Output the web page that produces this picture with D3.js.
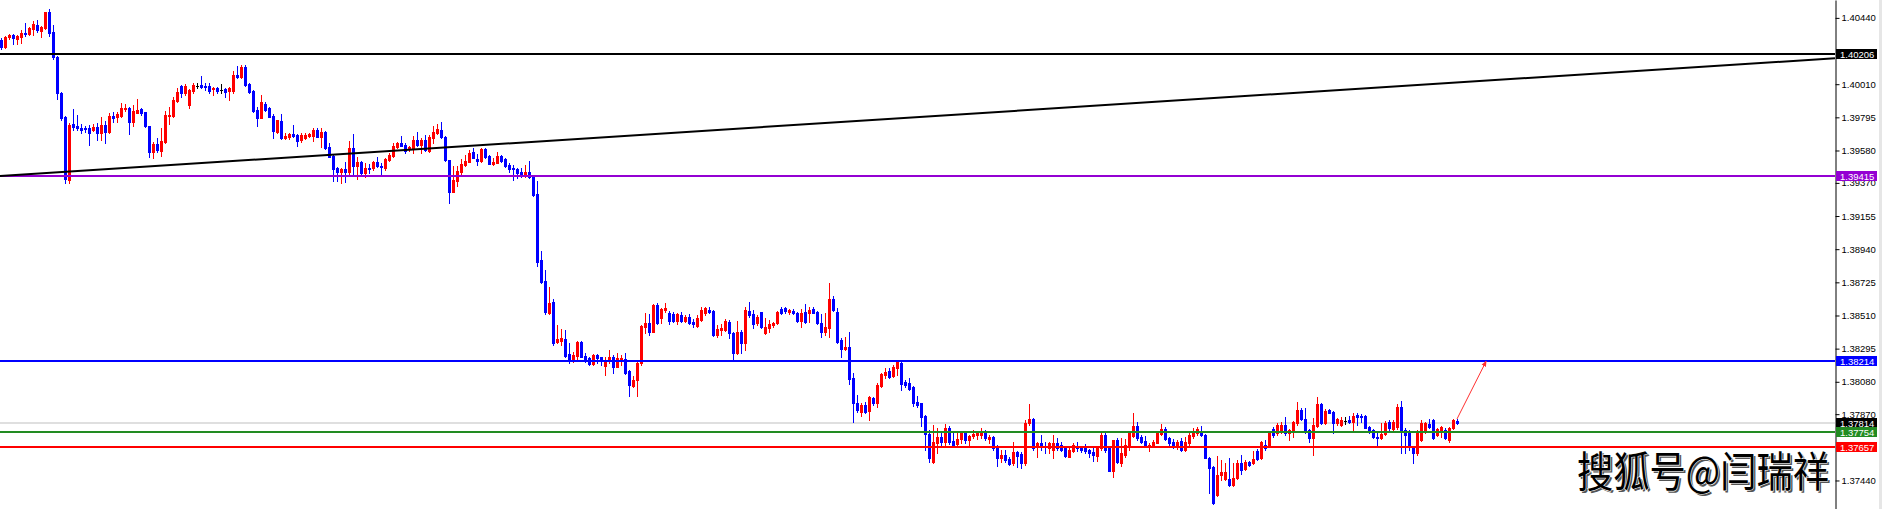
<!DOCTYPE html>
<html>
<head>
<meta charset="utf-8">
<script src="https://cdn.jsdelivr.net/npm/d3@7"></script>
<style>
  html, body { margin: 0; padding: 0; background: #fff; }
  svg { display: block; }
</style>
</head>
<body>
<div id="chart"></div>
<script>
// -- candle data, one entry per bar -----------------------------
const openP = [
  1.40297, 1.40252, 1.40316, 1.40329, 1.40303, 1.40316, 1.40342, 1.40335, 1.40368, 1.40394,
  1.40355, 1.40374, 1.40478, 1.40348, 1.40187, 1.39953, 1.39798, 1.39389, 1.39752, 1.39739,
  1.39726, 1.39726, 1.39726, 1.39713, 1.39733, 1.39694, 1.39746, 1.39700, 1.39804, 1.39798,
  1.39804, 1.39849, 1.39855, 1.39765, 1.39824, 1.39849, 1.39830, 1.39739, 1.39570, 1.39622,
  1.39577, 1.39635, 1.39804, 1.39804, 1.39901, 1.39998, 1.39953, 1.39875, 1.39966, 1.39998,
  1.40005, 1.39998, 1.39998, 1.39979, 1.39985, 1.39972, 1.39979, 1.39966, 1.39966, 1.40070,
  1.40057, 1.40122, 1.40011, 1.39966, 1.39843, 1.39791, 1.39881, 1.39855, 1.39804, 1.39700,
  1.39772, 1.39661, 1.39668, 1.39687, 1.39681, 1.39648, 1.39661, 1.39674, 1.39674, 1.39713,
  1.39668, 1.39700, 1.39603, 1.39544, 1.39466, 1.39440, 1.39460, 1.39440, 1.39596, 1.39479,
  1.39505, 1.39434, 1.39466, 1.39466, 1.39505, 1.39479, 1.39466, 1.39518, 1.39544, 1.39603,
  1.39629, 1.39616, 1.39590, 1.39590, 1.39648, 1.39616, 1.39648, 1.39577, 1.39661, 1.39694,
  1.39713, 1.39668, 1.39518, 1.39311, 1.39383, 1.39440, 1.39486, 1.39505, 1.39570, 1.39525,
  1.39512, 1.39590, 1.39544, 1.39492, 1.39499, 1.39544, 1.39525, 1.39486, 1.39466, 1.39460,
  1.39440, 1.39414, 1.39440, 1.39408, 1.39298, 1.38870, 1.38734, 1.38526, 1.38597, 1.38338,
  1.38345, 1.38358, 1.38260, 1.38221, 1.38247, 1.38338, 1.38247, 1.38234, 1.38195, 1.38254,
  1.38241, 1.38182, 1.38215, 1.38241, 1.38176, 1.38221, 1.38228, 1.38150, 1.38052, 1.38091,
  1.38202, 1.38436, 1.38462, 1.38403, 1.38578, 1.38494, 1.38545, 1.38526, 1.38519, 1.38474,
  1.38513, 1.38474, 1.38500, 1.38468, 1.38442, 1.38481, 1.38526, 1.38545, 1.38539, 1.38384,
  1.38416, 1.38416, 1.38468, 1.38397, 1.38267, 1.38403, 1.38332, 1.38539, 1.38519, 1.38462,
  1.38532, 1.38397, 1.38429, 1.38449, 1.38462, 1.38552, 1.38558, 1.38532, 1.38539, 1.38526,
  1.38474, 1.38532, 1.38526, 1.38552, 1.38532, 1.38462, 1.38403, 1.38429, 1.38617, 1.38532,
  1.38351, 1.38293, 1.38306, 1.38104, 1.37943, 1.37884, 1.37930, 1.37891, 1.37975, 1.37943,
  1.38052, 1.38124, 1.38150, 1.38117, 1.38169, 1.38202, 1.38078, 1.38072, 1.38046, 1.37949,
  1.37943, 1.37858, 1.37741, 1.37560, 1.37683, 1.37722, 1.37689, 1.37780, 1.37696, 1.37676,
  1.37709, 1.37748, 1.37702, 1.37728, 1.37735, 1.37735, 1.37748, 1.37709, 1.37722, 1.37663,
  1.37585, 1.37605, 1.37579, 1.37554, 1.37624, 1.37611, 1.37554, 1.37813, 1.37839, 1.37657,
  1.37683, 1.37663, 1.37650, 1.37637, 1.37683, 1.37670, 1.37650, 1.37592, 1.37631, 1.37663,
  1.37650, 1.37650, 1.37637, 1.37624, 1.37598, 1.37650, 1.37735, 1.37650, 1.37502, 1.37702,
  1.37554, 1.37605, 1.37657, 1.37728, 1.37793, 1.37722, 1.37696, 1.37657, 1.37663, 1.37683,
  1.37741, 1.37774, 1.37715, 1.37689, 1.37670, 1.37696, 1.37637, 1.37683, 1.37728, 1.37748,
  1.37754, 1.37735, 1.37585, 1.37528, 1.37346, 1.37476, 1.37450, 1.37450, 1.37411, 1.37456,
  1.37554, 1.37515, 1.37560, 1.37554, 1.37631, 1.37585, 1.37670, 1.37657, 1.37774, 1.37748,
  1.37754, 1.37800, 1.37748, 1.37754, 1.37813, 1.37897, 1.37839, 1.37767, 1.37715, 1.37793,
  1.37936, 1.37813, 1.37897, 1.37884, 1.37813, 1.37800, 1.37826, 1.37832, 1.37819, 1.37865,
  1.37858, 1.37858, 1.37787, 1.37767, 1.37722, 1.37715, 1.37741, 1.37819, 1.37774, 1.37787,
  1.37917, 1.37767, 1.37754, 1.37657, 1.37618, 1.37702, 1.37754, 1.37806, 1.37832, 1.37735,
  1.37754, 1.37767, 1.37702, 1.37780, 1.37826
];
const highP = [
  1.40309, 1.40322, 1.40335, 1.40335, 1.40329, 1.40361, 1.40407, 1.40381, 1.40420, 1.40426,
  1.40387, 1.40478, 1.40498, 1.40394, 1.40193, 1.39959, 1.39804, 1.39759, 1.39849, 1.39811,
  1.39752, 1.39739, 1.39746, 1.39752, 1.39759, 1.39798, 1.39772, 1.39824, 1.39830, 1.39830,
  1.39888, 1.39881, 1.39862, 1.39875, 1.39914, 1.39855, 1.39830, 1.39739, 1.39635, 1.39661,
  1.39726, 1.39837, 1.39862, 1.39927, 1.39985, 1.40005, 1.40011, 1.39979, 1.40018, 1.40018,
  1.40063, 1.40018, 1.40018, 1.39992, 1.39992, 1.40011, 1.39985, 1.39992, 1.40096, 1.40128,
  1.40135, 1.40135, 1.40018, 1.39972, 1.39862, 1.39940, 1.39894, 1.39862, 1.39817, 1.39778,
  1.39817, 1.39694, 1.39694, 1.39746, 1.39687, 1.39694, 1.39694, 1.39694, 1.39726, 1.39726,
  1.39726, 1.39707, 1.39629, 1.39551, 1.39473, 1.39466, 1.39505, 1.39642, 1.39687, 1.39538,
  1.39512, 1.39499, 1.39492, 1.39512, 1.39538, 1.39499, 1.39531, 1.39564, 1.39629, 1.39635,
  1.39674, 1.39629, 1.39609, 1.39674, 1.39700, 1.39661, 1.39681, 1.39681, 1.39739, 1.39752,
  1.39765, 1.39674, 1.39518, 1.39479, 1.39479, 1.39525, 1.39551, 1.39583, 1.39596, 1.39557,
  1.39596, 1.39596, 1.39551, 1.39531, 1.39570, 1.39551, 1.39531, 1.39499, 1.39486, 1.39466,
  1.39466, 1.39486, 1.39512, 1.39421, 1.39383, 1.38929, 1.38805, 1.38695, 1.38617, 1.38449,
  1.38423, 1.38416, 1.38332, 1.38273, 1.38345, 1.38345, 1.38267, 1.38241, 1.38260, 1.38260,
  1.38241, 1.38241, 1.38286, 1.38254, 1.38267, 1.38254, 1.38267, 1.38156, 1.38117, 1.38208,
  1.38449, 1.38526, 1.38519, 1.38584, 1.38591, 1.38558, 1.38591, 1.38539, 1.38532, 1.38526,
  1.38532, 1.38513, 1.38519, 1.38487, 1.38513, 1.38565, 1.38565, 1.38565, 1.38545, 1.38449,
  1.38455, 1.38487, 1.38481, 1.38403, 1.38474, 1.38416, 1.38565, 1.38597, 1.38545, 1.38513,
  1.38532, 1.38493, 1.38481, 1.38468, 1.38539, 1.38565, 1.38565, 1.38552, 1.38552, 1.38532,
  1.38552, 1.38584, 1.38565, 1.38565, 1.38539, 1.38519, 1.38526, 1.38721, 1.38636, 1.38558,
  1.38364, 1.38371, 1.38403, 1.38137, 1.37995, 1.37943, 1.37949, 1.37988, 1.37982, 1.38072,
  1.38137, 1.38169, 1.38169, 1.38189, 1.38221, 1.38221, 1.38091, 1.38104, 1.38052, 1.37988,
  1.37943, 1.37865, 1.37767, 1.37800, 1.37780, 1.37748, 1.37806, 1.37793, 1.37748, 1.37761,
  1.37761, 1.37754, 1.37735, 1.37767, 1.37761, 1.37780, 1.37767, 1.37735, 1.37728, 1.37670,
  1.37637, 1.37637, 1.37592, 1.37689, 1.37631, 1.37624, 1.37832, 1.37936, 1.37845, 1.37689,
  1.37735, 1.37689, 1.37689, 1.37735, 1.37715, 1.37689, 1.37657, 1.37650, 1.37683, 1.37689,
  1.37663, 1.37676, 1.37644, 1.37657, 1.37663, 1.37754, 1.37748, 1.37657, 1.37702, 1.37715,
  1.37715, 1.37709, 1.37754, 1.37878, 1.37819, 1.37735, 1.37728, 1.37683, 1.37702, 1.37754,
  1.37806, 1.37787, 1.37722, 1.37709, 1.37702, 1.37715, 1.37722, 1.37748, 1.37780, 1.37787,
  1.37793, 1.37741, 1.37592, 1.37534, 1.37598, 1.37573, 1.37554, 1.37585, 1.37554, 1.37573,
  1.37605, 1.37573, 1.37567, 1.37631, 1.37644, 1.37696, 1.37702, 1.37754, 1.37787, 1.37813,
  1.37819, 1.37852, 1.37774, 1.37826, 1.37949, 1.37910, 1.37910, 1.37774, 1.37845, 1.37982,
  1.37943, 1.37904, 1.37904, 1.37891, 1.37845, 1.37852, 1.37852, 1.37858, 1.37878, 1.37878,
  1.37871, 1.37865, 1.37793, 1.37774, 1.37748, 1.37813, 1.37826, 1.37832, 1.37832, 1.37936,
  1.37956, 1.37780, 1.37767, 1.37663, 1.37767, 1.37832, 1.37819, 1.37839, 1.37839, 1.37780,
  1.37793, 1.37780, 1.37787, 1.37839, 1.37839
];
const lowP = [
  1.40239, 1.40245, 1.40303, 1.40271, 1.40271, 1.40278, 1.40322, 1.40329, 1.40329, 1.40348,
  1.40316, 1.40368, 1.40322, 1.40174, 1.39914, 1.39778, 1.39370, 1.39370, 1.39713, 1.39713,
  1.39694, 1.39700, 1.39616, 1.39707, 1.39648, 1.39648, 1.39629, 1.39694, 1.39765, 1.39765,
  1.39798, 1.39837, 1.39687, 1.39739, 1.39824, 1.39811, 1.39733, 1.39538, 1.39531, 1.39570,
  1.39544, 1.39629, 1.39752, 1.39798, 1.39894, 1.39927, 1.39940, 1.39855, 1.39953, 1.39985,
  1.39985, 1.39972, 1.39953, 1.39940, 1.39953, 1.39953, 1.39927, 1.39907, 1.39953, 1.40050,
  1.40050, 1.39998, 1.39953, 1.39830, 1.39739, 1.39791, 1.39837, 1.39798, 1.39661, 1.39694,
  1.39655, 1.39655, 1.39655, 1.39668, 1.39609, 1.39635, 1.39655, 1.39668, 1.39642, 1.39668,
  1.39603, 1.39590, 1.39538, 1.39383, 1.39383, 1.39370, 1.39376, 1.39421, 1.39421, 1.39395,
  1.39421, 1.39408, 1.39434, 1.39453, 1.39473, 1.39421, 1.39453, 1.39512, 1.39538, 1.39596,
  1.39609, 1.39564, 1.39577, 1.39564, 1.39609, 1.39564, 1.39577, 1.39570, 1.39629, 1.39687,
  1.39661, 1.39512, 1.39240, 1.39311, 1.39350, 1.39421, 1.39479, 1.39505, 1.39531, 1.39486,
  1.39505, 1.39531, 1.39492, 1.39486, 1.39499, 1.39505, 1.39473, 1.39440, 1.39389, 1.39401,
  1.39408, 1.39408, 1.39401, 1.39285, 1.38831, 1.38721, 1.38519, 1.38519, 1.38319, 1.38332,
  1.38319, 1.38241, 1.38202, 1.38208, 1.38221, 1.38241, 1.38208, 1.38189, 1.38189, 1.38202,
  1.38189, 1.38124, 1.38202, 1.38137, 1.38176, 1.38189, 1.38130, 1.37988, 1.38046, 1.37988,
  1.38189, 1.38397, 1.38384, 1.38403, 1.38455, 1.38462, 1.38532, 1.38455, 1.38468, 1.38455,
  1.38468, 1.38468, 1.38455, 1.38436, 1.38436, 1.38474, 1.38513, 1.38526, 1.38377, 1.38371,
  1.38384, 1.38410, 1.38364, 1.38221, 1.38260, 1.38267, 1.38286, 1.38500, 1.38429, 1.38449,
  1.38429, 1.38390, 1.38403, 1.38436, 1.38455, 1.38519, 1.38526, 1.38519, 1.38519, 1.38468,
  1.38436, 1.38462, 1.38468, 1.38526, 1.38455, 1.38371, 1.38384, 1.38371, 1.38539, 1.38332,
  1.38241, 1.38286, 1.38065, 1.37819, 1.37884, 1.37858, 1.37878, 1.37832, 1.37930, 1.37917,
  1.38046, 1.38104, 1.38104, 1.38111, 1.38124, 1.38027, 1.38046, 1.38027, 1.37923, 1.37917,
  1.37793, 1.37637, 1.37560, 1.37554, 1.37618, 1.37657, 1.37657, 1.37676, 1.37657, 1.37657,
  1.37683, 1.37683, 1.37657, 1.37715, 1.37709, 1.37715, 1.37702, 1.37683, 1.37637, 1.37534,
  1.37560, 1.37560, 1.37541, 1.37541, 1.37528, 1.37521, 1.37541, 1.37800, 1.37637, 1.37592,
  1.37637, 1.37618, 1.37618, 1.37585, 1.37637, 1.37631, 1.37592, 1.37592, 1.37624, 1.37631,
  1.37624, 1.37618, 1.37592, 1.37567, 1.37567, 1.37637, 1.37624, 1.37502, 1.37463, 1.37554,
  1.37534, 1.37592, 1.37637, 1.37722, 1.37702, 1.37683, 1.37657, 1.37631, 1.37657, 1.37683,
  1.37735, 1.37702, 1.37670, 1.37650, 1.37644, 1.37631, 1.37631, 1.37670, 1.37715, 1.37735,
  1.37728, 1.37585, 1.37359, 1.37287, 1.37339, 1.37443, 1.37443, 1.37404, 1.37404, 1.37450,
  1.37482, 1.37508, 1.37534, 1.37547, 1.37573, 1.37579, 1.37637, 1.37657, 1.37722, 1.37735,
  1.37748, 1.37735, 1.37702, 1.37722, 1.37800, 1.37832, 1.37748, 1.37689, 1.37605, 1.37787,
  1.37806, 1.37806, 1.37878, 1.37748, 1.37800, 1.37793, 1.37806, 1.37813, 1.37767, 1.37800,
  1.37819, 1.37780, 1.37748, 1.37715, 1.37670, 1.37709, 1.37735, 1.37767, 1.37767, 1.37774,
  1.37618, 1.37618, 1.37637, 1.37554, 1.37605, 1.37696, 1.37748, 1.37780, 1.37709, 1.37728,
  1.37722, 1.37709, 1.37689, 1.37774, 1.37806
];
const closeP = [
  1.40252, 1.40316, 1.40329, 1.40309, 1.40322, 1.40342, 1.40335, 1.40374, 1.40400, 1.40361,
  1.40381, 1.40478, 1.40342, 1.40187, 1.39953, 1.39791, 1.39395, 1.39746, 1.39733, 1.39726,
  1.39713, 1.39720, 1.39694, 1.39733, 1.39694, 1.39746, 1.39700, 1.39804, 1.39791, 1.39817,
  1.39855, 1.39855, 1.39765, 1.39837, 1.39843, 1.39824, 1.39739, 1.39570, 1.39622, 1.39583,
  1.39642, 1.39811, 1.39811, 1.39907, 1.39959, 1.39953, 1.39998, 1.39972, 1.40005, 1.39998,
  1.39992, 1.39992, 1.39966, 1.39985, 1.39966, 1.39972, 1.39959, 1.39985, 1.40070, 1.40057,
  1.40122, 1.40005, 1.39959, 1.39837, 1.39791, 1.39894, 1.39843, 1.39798, 1.39707, 1.39778,
  1.39661, 1.39674, 1.39687, 1.39674, 1.39642, 1.39681, 1.39681, 1.39687, 1.39713, 1.39668,
  1.39700, 1.39596, 1.39538, 1.39460, 1.39440, 1.39460, 1.39440, 1.39596, 1.39479, 1.39505,
  1.39434, 1.39466, 1.39460, 1.39505, 1.39479, 1.39473, 1.39525, 1.39551, 1.39609, 1.39629,
  1.39609, 1.39577, 1.39603, 1.39648, 1.39616, 1.39648, 1.39583, 1.39668, 1.39700, 1.39720,
  1.39668, 1.39518, 1.39311, 1.39389, 1.39447, 1.39492, 1.39512, 1.39564, 1.39531, 1.39512,
  1.39590, 1.39538, 1.39492, 1.39505, 1.39544, 1.39512, 1.39479, 1.39460, 1.39460, 1.39434,
  1.39421, 1.39440, 1.39408, 1.39292, 1.38857, 1.38727, 1.38532, 1.38591, 1.38332, 1.38358,
  1.38364, 1.38247, 1.38215, 1.38254, 1.38338, 1.38241, 1.38221, 1.38195, 1.38254, 1.38234,
  1.38221, 1.38221, 1.38241, 1.38176, 1.38234, 1.38234, 1.38137, 1.38059, 1.38091, 1.38202,
  1.38442, 1.38462, 1.38403, 1.38578, 1.38462, 1.38552, 1.38558, 1.38474, 1.38474, 1.38519,
  1.38474, 1.38500, 1.38462, 1.38455, 1.38493, 1.38545, 1.38558, 1.38532, 1.38384, 1.38423,
  1.38429, 1.38474, 1.38397, 1.38267, 1.38403, 1.38332, 1.38545, 1.38513, 1.38455, 1.38500,
  1.38436, 1.38436, 1.38455, 1.38462, 1.38532, 1.38526, 1.38539, 1.38545, 1.38526, 1.38474,
  1.38526, 1.38468, 1.38545, 1.38526, 1.38462, 1.38403, 1.38436, 1.38617, 1.38545, 1.38338,
  1.38293, 1.38306, 1.38098, 1.37943, 1.37897, 1.37930, 1.37884, 1.37982, 1.37943, 1.38059,
  1.38130, 1.38143, 1.38111, 1.38176, 1.38208, 1.38065, 1.38059, 1.38033, 1.37943, 1.37930,
  1.37852, 1.37741, 1.37585, 1.37689, 1.37722, 1.37689, 1.37780, 1.37689, 1.37670, 1.37709,
  1.37748, 1.37702, 1.37728, 1.37741, 1.37748, 1.37754, 1.37715, 1.37722, 1.37650, 1.37585,
  1.37605, 1.37573, 1.37547, 1.37624, 1.37598, 1.37554, 1.37813, 1.37839, 1.37650, 1.37683,
  1.37657, 1.37657, 1.37683, 1.37683, 1.37650, 1.37637, 1.37598, 1.37637, 1.37670, 1.37650,
  1.37637, 1.37631, 1.37618, 1.37605, 1.37657, 1.37735, 1.37637, 1.37502, 1.37702, 1.37560,
  1.37618, 1.37670, 1.37748, 1.37793, 1.37715, 1.37689, 1.37663, 1.37670, 1.37689, 1.37748,
  1.37774, 1.37709, 1.37683, 1.37670, 1.37689, 1.37637, 1.37689, 1.37735, 1.37754, 1.37774,
  1.37735, 1.37585, 1.37521, 1.37294, 1.37476, 1.37495, 1.37495, 1.37411, 1.37456, 1.37554,
  1.37508, 1.37560, 1.37541, 1.37579, 1.37579, 1.37689, 1.37650, 1.37748, 1.37735, 1.37800,
  1.37800, 1.37748, 1.37767, 1.37819, 1.37897, 1.37839, 1.37754, 1.37715, 1.37800, 1.37936,
  1.37813, 1.37891, 1.37878, 1.37813, 1.37839, 1.37832, 1.37826, 1.37819, 1.37858, 1.37852,
  1.37852, 1.37780, 1.37754, 1.37722, 1.37715, 1.37741, 1.37813, 1.37780, 1.37819, 1.37917,
  1.37767, 1.37735, 1.37657, 1.37618, 1.37748, 1.37813, 1.37813, 1.37787, 1.37715, 1.37774,
  1.37787, 1.37715, 1.37780, 1.37832, 1.37814
];

// -- price axis labels and drawn objects -------------------------
const axisTicks = [1.40440, 1.40010, 1.39795, 1.39580, 1.39370, 1.39155, 1.38940,
                   1.38725, 1.38510, 1.38295, 1.38080, 1.37870, 1.37440];
const levelPrices = [1.40206, 1.39415, 1.38214, 1.37754, 1.37657];
const bidPrice = 1.37814;
const trendPoints = [[0, 1.39415], [364, 1.40021]];      // [bar index, price]
const arrowPoints = [[364, 1.37839], [371.3, 1.38214]];  // [bar index, price]
const watermark = "搜狐号@闫瑞祥";

// -- styles --------------------------------------------------------
const W = 1882, H = 509, PLOT_R = 1835;
const BULL = "#ff0000", BEAR = "#0000ff", DOJI = "#000000";
const LEVEL_COLORS = ["#000000", "#9400d3", "#0000ff", "#228b22", "#ff0000"];
const AXIS_FONT = "'Liberation Sans', Arial, sans-serif";

const svg = d3.select("#chart").append("svg")
  .attr("width", W).attr("height", H)
  .style("background", "#fff");

const n = closeP.length;
const x = d3.scaleLinear().domain([0, n - 1]).range([1, 1 + 4 * (n - 1)]);
const y = d3.scaleLinear().domain([1.37255, 1.40556]).range([H, 0]);

const bars = d3.range(n).map((i) => ({
  i, o: openP[i], h: highP[i], l: lowP[i], c: closeP[i],
}));
const barColor = (d) => (d.c > d.o ? BULL : d.c < d.o ? BEAR : DOJI);

svg.append("defs").append("clipPath").attr("id", "plot")
  .append("rect").attr("width", PLOT_R).attr("height", H);

const plot = svg.append("g").attr("clip-path", "url(#plot)");

// bid line (behind the bars)
plot.append("rect")
  .attr("x", 0).attr("width", PLOT_R)
  .attr("y", Math.round(y(bidPrice)) - 0.5).attr("height", 1)
  .attr("fill", "#c0c0c0");

// candles
const candle = plot.append("g").attr("shape-rendering", "crispEdges")
  .selectAll("g").data(bars).join("g");

candle.append("rect")
  .attr("x", (d) => Math.round(x(d.i)))
  .attr("width", 1)
  .attr("y", (d) => Math.round(y(d.h)))
  .attr("height", (d) => Math.max(1, Math.round(y(d.l)) - Math.round(y(d.h)) + 1))
  .attr("fill", barColor);

candle.append("rect")
  .attr("x", (d) => Math.round(x(d.i)) - 1)
  .attr("width", 3)
  .attr("y", (d) => Math.round(y(Math.max(d.o, d.c))))
  .attr("height", (d) => Math.max(1, Math.round(y(Math.min(d.o, d.c))) - Math.round(y(Math.max(d.o, d.c))) + 1))
  .attr("fill", barColor);

// horizontal levels
plot.append("g").attr("shape-rendering", "crispEdges")
  .selectAll("rect").data(levelPrices).join("rect")
  .attr("x", 0).attr("width", PLOT_R)
  .attr("y", (p) => Math.round(y(p)) - 1).attr("height", 2)
  .attr("fill", (p, k) => LEVEL_COLORS[k]);

// trend line, extended as a ray across the plot
const [t0, t1] = trendPoints;
const slope = (t1[1] - t0[1]) / (t1[0] - t0[0]);
const trendAt = (i) => t0[1] + slope * (i - t0[0]);
plot.append("line")
  .attr("x1", 0).attr("y1", y(trendAt(x.invert(0))))
  .attr("x2", PLOT_R).attr("y2", y(trendAt(x.invert(PLOT_R))))
  .attr("stroke", "#000").attr("stroke-width", 2);

// red arrow
svg.select("defs").append("marker")
  .attr("id", "arrowhead")
  .attr("viewBox", "0 -5 10 10")
  .attr("refX", 9).attr("refY", 0)
  .attr("markerWidth", 6).attr("markerHeight", 6)
  .attr("markerUnits", "userSpaceOnUse")
  .attr("orient", "auto")
  .append("path").attr("d", "M0,-4L10,0L0,4").attr("fill", "#ff3030");

plot.append("line")
  .attr("x1", x(arrowPoints[0][0])).attr("y1", y(arrowPoints[0][1]))
  .attr("x2", x(arrowPoints[1][0])).attr("y2", y(arrowPoints[1][1]))
  .attr("stroke", "#ff3030").attr("stroke-width", 1)
  .attr("marker-end", "url(#arrowhead)");

// right price axis
const axis = svg.append("g")
  .attr("transform", `translate(${PLOT_R + 0.5},0)`)
  .call(d3.axisRight(y).tickValues(axisTicks).tickSize(4).tickSizeOuter(0)
    .tickFormat(d3.format(".5f")));
axis.select(".domain").attr("stroke", "#000");
axis.selectAll(".tick line").attr("stroke", "#000");
axis.selectAll("text")
  .attr("x", 6).attr("fill", "#000")
  .style("font-family", AXIS_FONT).style("font-size", "9.5px");

// price tags for the levels and the bid
const tags = levelPrices.map((p, k) => ({ p, color: LEVEL_COLORS[k] }));
tags.splice(3, 0, { p: bidPrice, color: "#000000" });
const tag = svg.append("g").selectAll("g").data(tags).join("g")
  .attr("transform", (d) => `translate(${PLOT_R + 1},${Math.round(y(d.p)) - 5})`);
tag.append("rect").attr("width", 41).attr("height", 10)
  .attr("fill", (d) => d.color).attr("shape-rendering", "crispEdges");
tag.append("text")
  .attr("x", 4).attr("y", 8.5)
  .attr("fill", "#fff")
  .style("font-family", AXIS_FONT).style("font-size", "9.5px")
  .text((d) => d3.format(".5f")(d.p));

// right border strip
svg.append("rect").attr("x", W - 3).attr("width", 3).attr("height", H).attr("fill", "#e6e6e6");

// watermark
const wm = svg.append("g").attr("transform", "translate(1577,487)")
  .style("font-family", "'Noto Sans CJK SC', sans-serif").style("font-size", "42px");
wm.append("text").attr("x", 2).attr("y", 2)
  .attr("textLength", 252).attr("lengthAdjust", "spacingAndGlyphs")
  .attr("fill", "#555").text(watermark);
wm.append("text")
  .attr("textLength", 252).attr("lengthAdjust", "spacingAndGlyphs")
  .attr("fill", "#000").attr("stroke", "#fff").attr("stroke-width", 1.2)
  .attr("paint-order", "stroke")
  .text(watermark);
</script>
</body>
</html>
